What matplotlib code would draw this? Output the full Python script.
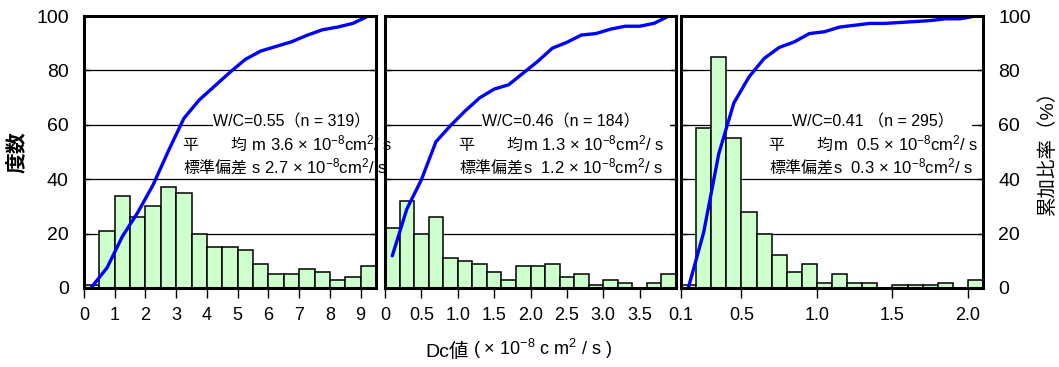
import matplotlib
matplotlib.use('Agg')
import matplotlib.pyplot as plt
import numpy as np
from matplotlib.patches import Rectangle

plt.rcParams['font.family'] = ['Liberation Sans', 'Noto Sans CJK JP', 'DejaVu Sans']
plt.rcParams['mathtext.fontset'] = 'custom'
plt.rcParams['mathtext.rm'] = 'Liberation Sans'
plt.rcParams['mathtext.it'] = 'Liberation Sans'
plt.rcParams['mathtext.default'] = 'regular'

# W/C=0.55 : bins of 0.5 (x10^-8 cm2/s)
bins_055 = [0.0, 0.5, 1.0, 1.5, 2.0, 2.5, 3.0, 3.5, 4.0, 4.5,
            5.0, 5.5, 6.0, 6.5, 7.0, 7.5, 8.0, 8.5, 9.0]
counts_055 = [1, 21, 34, 26, 30, 37, 35, 20, 15, 15, 14, 9, 5, 5, 7, 6, 3, 4, 8]

# W/C=0.46 : bins of 0.2
bins_046 = [0.0, 0.2, 0.4, 0.6, 0.8, 1.0, 1.2, 1.4, 1.6, 1.8,
            2.0, 2.2, 2.4, 2.6, 2.8, 3.0, 3.2, 3.4, 3.6, 3.8]
counts_046 = [22, 32, 20, 26, 11, 10, 9, 6, 3, 8, 8, 9, 4, 5, 1, 3, 2, 0, 2, 5]

# W/C=0.41 : bins of 0.1
bins_041 = [0.1, 0.2, 0.3, 0.4, 0.5, 0.6, 0.7, 0.8, 0.9, 1.0,
            1.1, 1.2, 1.3, 1.4, 1.5, 1.6, 1.7, 1.8, 1.9, 2.0]
counts_041 = [1, 59, 85, 55, 28, 20, 12, 6, 9, 2, 5, 2, 2, 0, 1, 1, 1, 2, 0, 3]

ticks_055 = [0, 1, 2, 3, 4, 5, 6, 7, 8, 9]
ticklabels_055 = ['0', '1', '2', '3', '4', '5', '6', '7', '8', '9']
ticks_046 = [0, 0.5, 1.0, 1.5, 2.0, 2.5, 3.0, 3.5]
ticklabels_046 = ['0', '0.5', '1.0', '1.5', '2.0', '2.5', '3.0', '3.5']
ticks_041 = [0.1, 0.5, 1.0, 1.5, 2.0]
ticklabels_041 = ['0.1', '0.5', '1.0', '1.5', '2.0']

y_ticks = [0, 20, 40, 60, 80, 100]

UNIT = r' $\times$ 10$^{-8}$cm$^{2}$/ s'

panels = [
    dict(bins=bins_055, counts=counts_055, width=0.5, xlim=(0, 9.5),
         ticks=ticks_055, labels=ticklabels_055,
         title='W/C=0.55（n = 319）',
         mean=['平　　均', ' m 3.6' + UNIT],
         std=['標準偏差', ' s 2.7' + UNIT],
         tx=0.443, mx=0.339, box=(0.443, 1.0)),
    dict(bins=bins_046, counts=counts_046, width=0.2, xlim=(0, 4.0),
         ticks=ticks_046, labels=ticklabels_046,
         title='W/C=0.46（n = 184）',
         mean=['平　　均', 'm 1.3' + UNIT],
         std=['標準偏差', 's  1.2' + UNIT],
         tx=0.332, mx=0.255, box=(0.332, 0.979)),
    dict(bins=bins_041, counts=counts_041, width=0.1, xlim=(0.1, 2.1),
         ticks=ticks_041, labels=ticklabels_041,
         title='W/C=0.41 （n = 295）',
         mean=['平　　均', 'm  0.5' + UNIT],
         std=['標準偏差', 's  0.3' + UNIT],
         tx=0.367, mx=0.292, box=(0.367, 0.963)),
]


def chained_text(ax, first, part, size):
    # put the mathtext piece right after the CJK piece
    return ax.annotate(part, xy=(1, 0), xycoords=first, va='bottom',
                       ha='left', fontsize=size, zorder=6,
                       annotation_clip=False)


W, H = 1059, 367
fig = plt.figure(figsize=(W / 100, H / 100), dpi=100)

boxes = [(84, 376), (385, 676), (681, 983)]
top_px, bottom_px = 16, 288
ann_size = 11.5

for i, (p, (x0, x1)) in enumerate(zip(panels, boxes)):
    ax = fig.add_axes([x0 / W, 1 - bottom_px / H, (x1 - x0) / W, (bottom_px - top_px) / H])
    # earlier panels on top so their overflowing text stays visible
    ax.set_zorder(3 - i)
    ax.patch.set_alpha(0)
    ax.set_axisbelow(True)
    ax.yaxis.grid(True, color='black', linewidth=0.9)

    ax.bar(p['bins'], p['counts'], width=p['width'], align='edge',
           color='#ccffcc', edgecolor='black', linewidth=1.1, zorder=2)

    counts = np.array(p['counts'])
    centers = np.array(p['bins']) + p['width'] / 2
    cum = np.cumsum(counts) / counts.sum() * 100
    ax.plot(centers, cum, color='#0000ff', linewidth=2.4, zorder=4,
            solid_capstyle='round')

    ax.set_xlim(*p['xlim'])
    ax.set_ylim(0, 100)
    ax.set_xticks(p['ticks'])
    ax.set_xticklabels(p['labels'])
    ax.set_yticks(y_ticks)

    for s in ax.spines.values():
        s.set_linewidth(2.2)
        s.set_zorder(5)

    ax.tick_params(axis='x', direction='out', length=7.5, width=1,
                   pad=6, labelsize=13)
    ax.tick_params(axis='y', direction='in', length=4, width=1,
                   left=True, right=True, labelleft=(i == 0),
                   labelright=(i == 2), labelsize=14, pad=11)

    trans = ax.get_yaxis_transform()
    ax.add_patch(Rectangle((p['box'][0], 57), p['box'][1] - p['box'][0], 9,
                           transform=trans, facecolor='white',
                           edgecolor='none', zorder=1))
    ax.text(p['tx'], 58.3, p['title'], transform=trans, fontsize=ann_size,
            va='bottom', ha='left', zorder=6, clip_on=False)
    for y, parts in [(49.5, p['mean']), (40.9, p['std'])]:
        t = ax.text(p['mx'], y, parts[0], transform=trans, fontsize=ann_size,
                    va='bottom', ha='left', zorder=6, clip_on=False)
        chained_text(ax, t, parts[1], 12)

# x label: CJK piece followed by mathtext piece
xl = fig.text(425 / W, 1 - 361 / H, 'Dc値', fontsize=14, ha='left', va='bottom')
chained_text(fig.axes[-1], xl, r' ( $\times$ 10$^{-8}$ c m$^{2}$ / s )', 13)

fig.text(18 / W, 1 - 152 / H, '度数', fontsize=15, fontweight='bold',
         rotation=90, ha='center', va='center')
fig.text(1048 / W, 1 - 148 / H, '累加比率（%）', fontsize=14,
         rotation=90, ha='center', va='center')

fig.savefig('out.png', dpi=100)
